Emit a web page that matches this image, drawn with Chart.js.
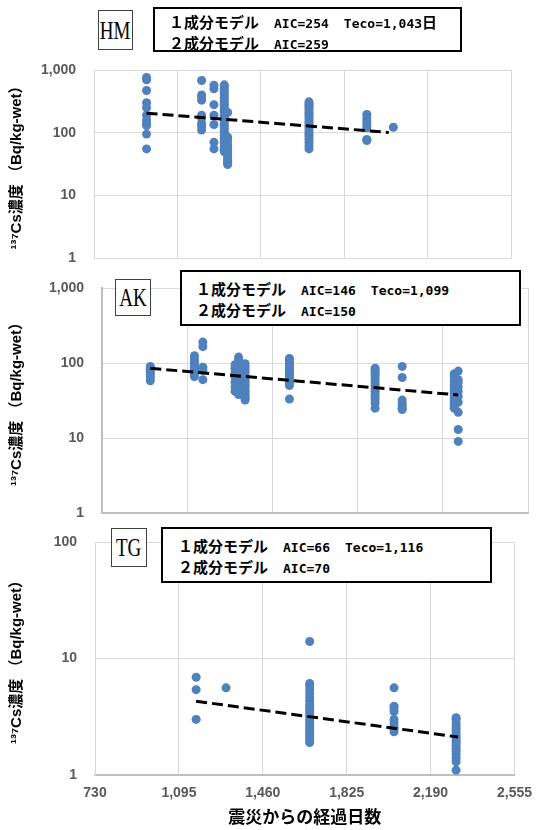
<!DOCTYPE html>
<html>
<head>
<meta charset="utf-8">
<script src="https://cdn.jsdelivr.net/npm/chart.js@4.4.0/dist/chart.umd.min.js"></script>
<style>
body { margin: 0; width: 542px; height: 830px; position: relative; background: #fff; overflow: hidden; font-family: "Noto Sans CJK JP", sans-serif; }
canvas { position: absolute; left: 0; }
.tag { position: absolute; border: 1px solid #404040; background: #fff; box-sizing: border-box; display: flex; align-items: center; justify-content: center; font-family: "Liberation Serif", serif; font-size: 25px; line-height: 1; color: #000; }
.tag span { display: inline-block; transform: scaleX(0.76); }
.aic { position: absolute; border: 2px solid #000; background: #fff; box-sizing: border-box; font-size: 15px; font-weight: bold; color: #000; white-space: nowrap; }
.aic div { height: 21px; line-height: 21px; }
.aic .m { font-family: "DejaVu Sans Mono", monospace; font-weight: bold; font-size: 13px; line-height: 1; }
</style>
</head>
<body>
<canvas id="hm" width="542" height="272" style="top:0px"></canvas>
<canvas id="ak" width="542" height="263" style="top:262px"></canvas>
<canvas id="tg" width="542" height="315" style="top:515px"></canvas>

<div class="tag" style="left:98px;top:10px;width:35px;height:40px"><span>HM</span></div>
<div class="aic" style="left:153px;top:7px;width:309px;height:45px;padding:2px 0 0 14px">
  <div>１成分モデル　<span class="m">AIC=254</span>　<span class="m">Teco=1,043</span>日</div>
  <div>２成分モデル　<span class="m">AIC=259</span></div>
</div>

<div class="tag" style="left:115px;top:279px;width:36px;height:37px"><span>AK</span></div>
<div class="aic" style="left:180px;top:270px;width:341px;height:56px;padding:6px 0 0 14px">
  <div>１成分モデル　<span class="m">AIC=146</span>　<span class="m">Teco=1,099</span></div>
  <div>２成分モデル　<span class="m">AIC=150</span></div>
</div>

<div class="tag" style="left:111px;top:528px;width:36px;height:39px"><span>TG</span></div>
<div class="aic" style="left:161px;top:527px;width:331px;height:56px;padding:6px 0 0 15px">
  <div>１成分モデル　<span class="m">AIC=66</span>　<span class="m">Teco=1,116</span></div>
  <div>２成分モデル　<span class="m">AIC=70</span></div>
</div>

<script>
// days since the disaster and 137Cs concentration (Bq/kg-wet), one inner list per sampling day
const xTicks = [730, 1095, 1460, 1825, 2190, 2555];
const yTicks = [1, 10, 100, 1000];

const hmDays = [960, 1201, 1255, 1300, 1315, 1671, 1924, 2040];
const hmValues = [
    [760, 700, 470, 300, 250, 190, 160, 140, 130, 95, 55],
    [680, 400, 370, 330, 190, 170, 140, 125, 110],
    [570, 500, 280, 190, 135, 70, 55],
    [580, 540, 500, 460, 420, 390, 360, 330, 300, 280, 260, 240, 220, 200, 185, 170, 155, 140, 130, 120, 110, 100, 90, 82, 75, 68, 60, 54, 50],
    [210, 85, 75, 65, 58, 52, 46, 42, 38, 35, 33, 31],
    [310, 290, 270, 250, 230, 210, 195, 180, 165, 150, 140, 130, 120, 110, 100, 92, 85, 78, 70, 62, 55],
    [195, 170, 150, 135, 120, 78, 75],
    [122]
];
const hmTrendDays = [960, 2020];
const hmTrendValues = [205, 101];

const akDays = [937, 1126, 1162, 1300, 1315, 1343, 1533, 1900, 2016, 2239, 2256];
const akValues = [
    [90, 85, 80, 75, 70, 64, 58],
    [125, 115, 105, 98, 90, 85, 80, 75, 70, 66],
    [190, 165, 88, 80, 60],
    [95, 85, 75, 65, 55, 48, 42],
    [120, 110, 100, 95, 90, 85, 80, 75, 70, 66, 62, 58, 55, 52, 49, 46, 43, 40, 38],
    [98, 90, 82, 75, 68, 62, 57, 53, 49, 45, 42, 39, 36, 34, 32],
    [115, 108, 100, 95, 90, 85, 80, 75, 70, 65, 60, 55, 50, 33],
    [85, 80, 75, 70, 65, 60, 55, 50, 46, 42, 38, 35, 32, 29, 25],
    [90, 64, 32, 29, 27, 25, 24],
    [72, 65, 58, 52, 47, 43, 40, 37, 34, 31, 29, 27, 25],
    [78, 60, 55, 48, 42, 36, 30, 22, 13, 9]
];
const akTrendDays = [937, 2256];
const akTrendValues = [85, 37.5];

const tgDays = [1170, 1300, 1664, 2031, 2301];
const tgValues = [
    [6.9, 5.4, 3.0],
    [5.6],
    [14, 6.1, 5.8, 5.4, 5.0, 4.6, 4.3, 4.0, 3.8, 3.6, 3.4, 3.2, 3.0, 2.85, 2.7, 2.55, 2.4, 2.3, 2.2, 2.1, 2.0, 1.9],
    [5.6, 3.9, 3.7, 3.5, 3.0, 2.8, 2.6, 2.5, 2.35],
    [3.1, 3.0, 2.8, 2.65, 2.5, 2.35, 2.2, 2.1, 2.0, 1.9, 1.8, 1.7, 1.6, 1.5, 1.4, 1.3, 1.1]
];
const tgTrendDays = [1170, 2309];
const tgTrendValues = [4.3, 2.12];

const yTitle = '¹³⁷Cs濃度 （Bq/kg-wet）';
const xTitle = '震災からの経過日数';

const tickFont = { family: '"Liberation Sans", Arial, sans-serif', size: 14, weight: 'bold' };
const fmt = v => Number(v).toLocaleString('en-US');

function toPoints(days, values) {
    const pts = [];
    days.forEach((d, i) => values[i].forEach(v => pts.push({ x: d, y: v })));
    return pts;
}

function makePanel(id, days, values, trendDays, trendValues, o) {
    new Chart(document.getElementById(id), {
        type: 'scatter',
        data: {
            datasets: [{
                type: 'line',
                data: trendDays.map((d, i) => ({ x: d, y: trendValues[i] })),
                borderColor: '#000',
                borderWidth: 3,
                borderDash: [11, 5],
                pointRadius: 0,
                fill: false,
                order: 0
            }, {
                data: toPoints(days, values),
                backgroundColor: '#4f81bd',
                borderWidth: 0,
                pointRadius: 4.5,
                pointHoverRadius: 4.5,
                order: 1
            }]
        },
        options: {
            responsive: false,
            animation: false,
            events: [],
            layout: { padding: { left: 0, top: o.top, right: 542 - o.right, bottom: 0 } },
            plugins: { legend: { display: false }, tooltip: { enabled: false } },
            scales: {
                x: {
                    type: 'linear',
                    min: 730,
                    max: 2555,
                    afterBuildTicks: s => { s.ticks = xTicks.map(v => ({ value: v })); },
                    afterFit: s => { s.height = o.xHeight; },
                    grid: { color: '#d9d9d9', lineWidth: 1, drawTicks: false },
                    border: { color: o.bottomBorder, width: o.bottomBorderWidth },
                    ticks: { display: o.showX, padding: 10, color: '#595959', font: tickFont, callback: fmt },
                    title: {
                        display: o.showX,
                        text: xTitle,
                        color: '#000',
                        font: { family: '"Noto Sans CJK JP", sans-serif', size: 17, weight: 'bold' },
                        padding: { top: 0, bottom: 3 }
                    }
                },
                y: {
                    type: 'logarithmic',
                    min: 1,
                    max: o.yMax,
                    afterBuildTicks: s => { s.ticks = yTicks.filter(v => v <= o.yMax).map(v => ({ value: v })); },
                    // fixed width; drop the label overhang so the plot area stays where it is set
                    afterFit: s => { s.width = o.left; s.paddingTop = 0; s.paddingBottom = 0; },
                    grid: { color: '#d9d9d9', lineWidth: 1, drawTicks: false },
                    border: { color: o.leftBorder, width: o.leftBorderWidth },
                    ticks: { padding: 18, color: '#595959', font: tickFont, callback: fmt },
                    title: {
                        display: true,
                        text: yTitle,
                        color: '#000',
                        font: { family: '"Liberation Sans", "Noto Sans CJK JP", sans-serif', size: 15, weight: 'bold' },
                        padding: { top: 8, bottom: 0 }
                    }
                }
            }
        }
    });
}

// HM panel
makePanel('hm', hmDays, hmValues, hmTrendDays, hmTrendValues, {
    left: 94, right: 511, top: 70, xHeight: 14, yMax: 1000, showX: false,
    leftBorder: '#d9d9d9', leftBorderWidth: 1, bottomBorder: '#d9d9d9', bottomBorderWidth: 1
});

// AK panel
makePanel('ak', akDays, akValues, akTrendDays, akTrendValues, {
    left: 102, right: 528, top: 26, xHeight: 12, yMax: 1000, showX: false,
    leftBorder: '#bfbfbf', leftBorderWidth: 2, bottomBorder: '#bfbfbf', bottomBorderWidth: 2
});

// TG panel
makePanel('tg', tgDays, tgValues, tgTrendDays, tgTrendValues, {
    left: 95, right: 523, top: 27, xHeight: 55, yMax: 100, showX: true,
    leftBorder: '#d9d9d9', leftBorderWidth: 1, bottomBorder: '#bfbfbf', bottomBorderWidth: 2
});
</script>
</body>
</html>
